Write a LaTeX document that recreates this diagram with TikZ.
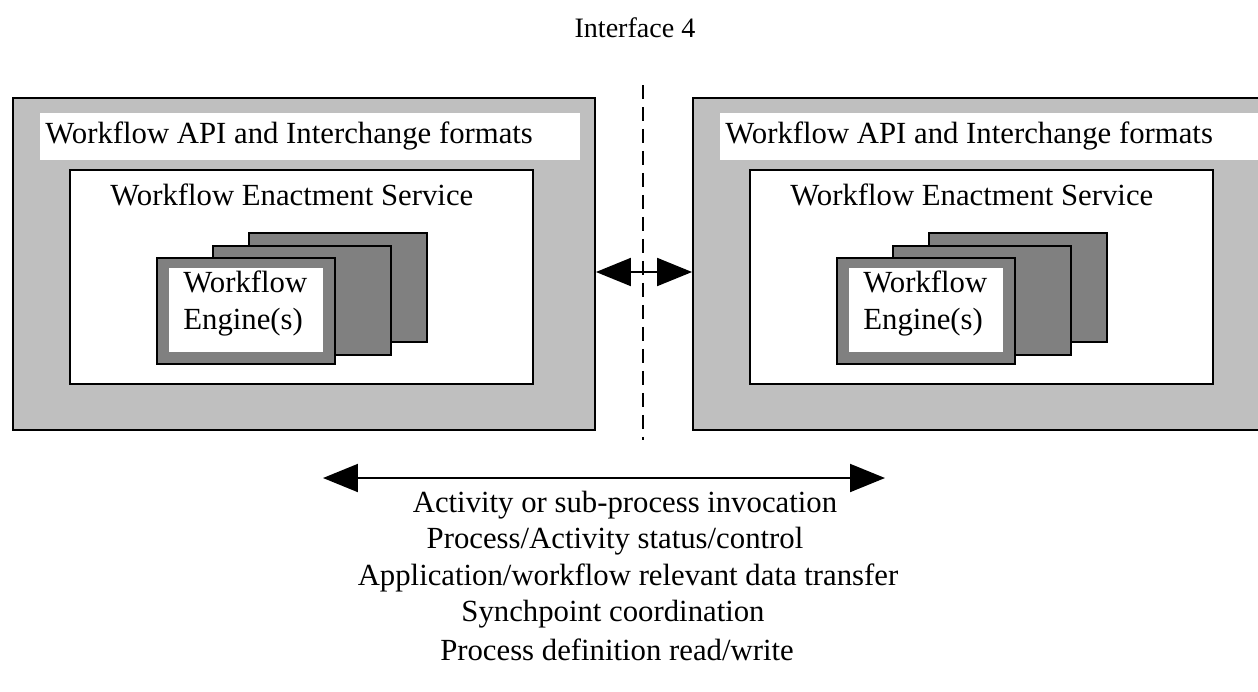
\documentclass[tikz,border=0pt]{standalone}
\usepackage{fontspec}
\setmainfont{Liberation Serif}
\usetikzlibrary{arrows.meta, calc, positioning}
\tikzstyle{outer} = [rectangle, draw=black, fill=black!25, line width=0.04cm,
	minimum width=11.64cm, minimum height=6.64cm]
\tikzstyle{api} = [rectangle, fill=white, minimum width=10.8cm, minimum height=0.94cm]
\tikzstyle{service} = [rectangle, draw=black, fill=white, line width=0.04cm,
	minimum width=9.26cm, minimum height=4.28cm]
\tikzstyle{engine} = [rectangle, draw=black, fill=black!50, line width=0.04cm,
	minimum width=3.56cm, minimum height=2.18cm]
\tikzstyle{label} = [inner sep=0pt, font=\fontsize{17.5}{21}\selectfont]
\tikzstyle{arrow} = [{Triangle[length=0.7cm, width=0.56cm]}-{Triangle[length=0.7cm, width=0.56cm]}, line width=0.04cm]

\begin{document}
\begin{tikzpicture}[x=0.02cm, y=-0.02cm]
	\path[use as bounding box, clip] (0,0) rectangle (1258,691);

	\node (title) [inner sep=0pt, font=\fontsize{16}{19}\selectfont] at (635,28) {Interface 4};

	% left side
	\node (lout) [outer] at (304,264) {};
	\node (lapi) [api] at (310,136.5) {};
	\node (lapitext) [label, anchor=west] at (45,136) {Workflow API and Interchange formats};
	\node (lwes) [service] at (301.5,277) {};
	\node (lwestext) [label, anchor=west] at (110,195) {Workflow Enactment Service};
	\node (leng3) [engine] at (338,287.5) {};
	\node (leng2) [engine] at (302,300.5) {};
	\node (leng1) [engine, minimum height=2.12cm] at (246,311) {};
	\node (lengin) [rectangle, fill=white, minimum width=3.08cm, minimum height=1.68cm] at (246,310) {};
	\node (lengtext) [label, anchor=west, align=left, font=\fontsize{17.5}{21.5}\selectfont] at (183,303.5) {Workflow\\Engine(s)};

	% right side
	\node (rout) [outer] at (984,264) {};
	\node (rapi) [api] at (990,136.5) {};
	\node (rapitext) [label, anchor=west] at (725,136) {Workflow API and Interchange formats};
	\node (rwes) [service] at (981.5,277) {};
	\node (rwestext) [label, anchor=west] at (790,195) {Workflow Enactment Service};
	\node (reng3) [engine] at (1018,287.5) {};
	\node (reng2) [engine] at (982,300.5) {};
	\node (reng1) [engine, minimum height=2.12cm] at (926,311) {};
	\node (rengin) [rectangle, fill=white, minimum width=3.08cm, minimum height=1.68cm] at (926,310) {};
	\node (rengtext) [label, anchor=west, align=left, font=\fontsize{17.5}{21.5}\selectfont] at (863,303.5) {Workflow\\Engine(s)};

	% interface line
	\coordinate (ltop) at (643,85);
	\coordinate (lbot) at (643,440);
	\draw [black, line width=0.03cm, dash pattern=on 0.28cm off 0.16cm] (ltop) -- (lbot);

	\draw [arrow] ([yshift=-0.16cm]lout.east) -- ([yshift=-0.16cm]rout.west);

	\coordinate (aleft) at (323,478);
	\coordinate (aright) at (885,478);
	\draw [arrow] (aleft) -- (aright);

	\node (t1) [label] at (625,505) {Activity or sub-process invocation};
	\node (t2) [label] at (615,541) {Process/Activity status/control};
	\node (t3) [label] at (628,578) {Application/workflow relevant data transfer};
	\node (t4) [label] at (613,614) {Synchpoint coordination};
	\node (t5) [label] at (617,650) {Process definition read/write};

\end{tikzpicture}
\end{document}
